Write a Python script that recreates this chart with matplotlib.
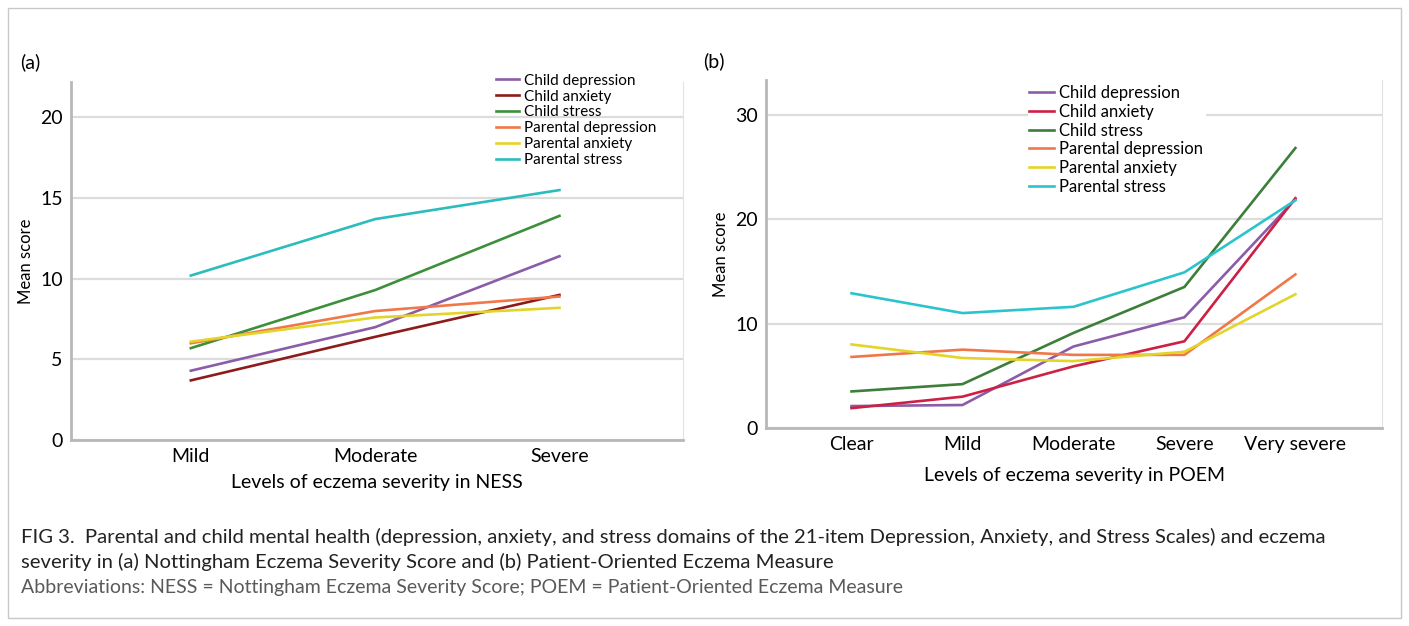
import matplotlib.pyplot as plt
from matplotlib.patches import Rectangle

plt.rcParams['font.family'] = ['Lato', 'DejaVu Sans']

# series names shared by both panels
series = ["Child depression", "Child anxiety", "Child stress",
          "Parental depression", "Parental anxiety", "Parental stress"]

# (a) NESS severity levels
ness_levels = ["Mild", "Moderate", "Severe"]
ness_child_dep = [4.3, 7.0, 11.4]
ness_child_anx = [3.7, 6.4, 9.0]
ness_child_str = [5.7, 9.3, 13.9]
ness_par_dep = [6.0, 8.0, 8.9]
ness_par_anx = [6.1, 7.6, 8.2]
ness_par_str = [10.2, 13.7, 15.5]

# (b) POEM severity levels
poem_levels = ["Clear", "Mild", "Moderate", "Severe", "Very severe"]
poem_child_dep = [2.1, 2.2, 7.8, 10.6, 21.9]
poem_child_anx = [1.9, 3.0, 5.9, 8.3, 22.0]
poem_child_str = [3.5, 4.2, 9.1, 13.5, 26.8]
poem_par_dep = [6.8, 7.5, 7.0, 7.0, 14.7]
poem_par_anx = [8.0, 6.7, 6.4, 7.3, 12.8]
poem_par_str = [12.9, 11.0, 11.6, 14.9, 21.8]

colors_a = ["#8b5ca8", "#8e1b1b", "#3d8f3a", "#f07848", "#e3d42a", "#2cbcbd"]
colors_b = ["#8b5ca8", "#cc2044", "#3d7f3a", "#f07848", "#e3d42a", "#2cc4cc"]

fig = plt.figure(figsize=(14.09, 6.26), dpi=100)

# outer frame of the figure
fig.patches.append(Rectangle((0.006, 0.013), 0.988, 0.975, transform=fig.transFigure,
                             fill=False, edgecolor="#c8c8c8", lw=1.0))


def style_axes(ax, yticks):
    ax.set_yticks(yticks)
    ax.grid(axis="y", color="#dcdcdc", lw=1.6)
    ax.set_axisbelow(True)
    ax.spines["top"].set_visible(False)
    ax.spines["right"].set_color("#e2e2e2")
    ax.spines["left"].set_color("#b8b8b8")
    ax.spines["bottom"].set_color("#b8b8b8")
    ax.spines["left"].set_linewidth(2)
    ax.spines["bottom"].set_linewidth(2)
    ax.tick_params(length=0, labelsize=14, pad=6)
    ax.set_ylabel("Mean score", fontsize=12, labelpad=4)


ax1 = fig.add_axes([0.0504, 0.297, 0.4343, 0.572])
data_a = [ness_child_dep, ness_child_anx, ness_child_str, ness_par_dep, ness_par_anx, ness_par_str]
for name, vals, c in zip(series, data_a, colors_a):
    ax1.plot(range(len(ness_levels)), vals, color=c, lw=1.9, label=name)
ax1.set_xticks(range(len(ness_levels)))
ax1.set_xticklabels(ness_levels)
ax1.set_xlim(-0.65, 2.67)
ax1.set_ylim(0, 22.2)
style_axes(ax1, [0, 5, 10, 15, 20])
ax1.set_xlabel("Levels of eczema severity in NESS", fontsize=14, labelpad=6)
ax1.legend(loc="upper left", bbox_to_anchor=(0.685, 1.04), frameon=False, fontsize=11,
           handlelength=1.5, handletextpad=0.3, labelspacing=0.12, borderaxespad=0.0)

ax2 = fig.add_axes([0.5437, 0.3163, 0.4371, 0.5557])
data_b = [poem_child_dep, poem_child_anx, poem_child_str, poem_par_dep, poem_par_anx, poem_par_str]
for name, vals, c in zip(series, data_b, colors_b):
    ax2.plot(range(len(poem_levels)), vals, color=c, lw=1.9, label=name)
ax2.set_xticks(range(len(poem_levels)))
ax2.set_xticklabels(poem_levels)
ax2.set_xlim(-0.77, 4.78)
ax2.set_ylim(0, 33.3)
style_axes(ax2, [0, 10, 20, 30])
ax2.set_xlabel("Levels of eczema severity in POEM", fontsize=14, labelpad=10)
leg = ax2.legend(loc="upper left", bbox_to_anchor=(0.425, 0.99), frameon=True, fontsize=12,
                 handlelength=1.5, handletextpad=0.3, labelspacing=0.16, borderaxespad=0.0,
                 borderpad=0.1, fancybox=False)
leg.get_frame().set_edgecolor("white")
leg.get_frame().set_facecolor("white")
leg.get_frame().set_alpha(1.0)

fig.text(0.014, 0.9, "(a)", fontsize=14, va="center")
fig.text(0.499, 0.903, "(b)", fontsize=14, va="center")

# caption
fig.text(0.015, 0.142,
         "FIG 3.  Parental and child mental health (depression, anxiety, and stress domains of the 21-item "
         "Depression, Anxiety, and Stress Scales) and eczema",
         fontsize=14.6, color="#222222", va="center")
fig.text(0.015, 0.102,
         "severity in (a) Nottingham Eczema Severity Score and (b) Patient-Oriented Eczema Measure",
         fontsize=14.6, color="#222222", va="center")
fig.text(0.015, 0.062,
         "Abbreviations: NESS = Nottingham Eczema Severity Score; POEM = Patient-Oriented Eczema Measure",
         fontsize=14.0, color="#5a5a5a", va="center")

fig.savefig("out.png", dpi=100)
